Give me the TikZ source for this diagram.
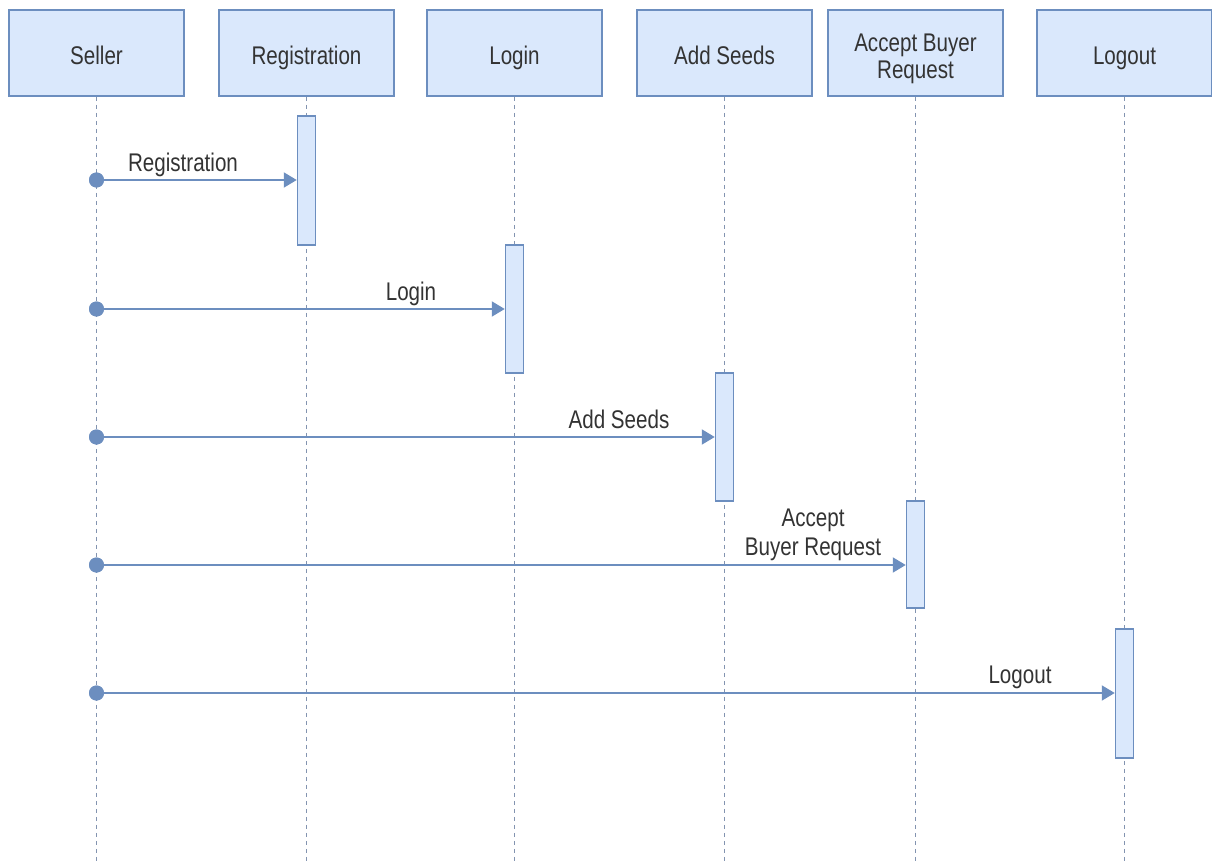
\documentclass[tikz,border=0pt]{standalone}
\usepackage{fontspec}
\setmainfont{Liberation Sans}
\usetikzlibrary{arrows.meta}
\definecolor{boxfill}{HTML}{DAE8FC}
\definecolor{boxline}{HTML}{6C8EBF}
\definecolor{lifec}{HTML}{8394B0}
\definecolor{txt}{HTML}{333333}
\newcommand{\sq}[1]{\scalebox{1}[1.24]{#1}}
\newcommand{\hd}[1]{\raisebox{0pt}[24pt][0pt]{\sq{#1}}}
\begin{document}
\begin{tikzpicture}[x=1pt,y=-1pt,
  every node/.style={font=\fontsize{20.6}{28}\selectfont, text=txt},
  head/.style={draw=boxline, fill=boxfill, line width=1.7pt, minimum width=175pt, minimum height=86pt, inner sep=0pt, align=center},
  actbox/.style={draw=boxline, fill=boxfill, line width=1.5pt, minimum width=18pt, inner sep=0pt},
  life/.style={draw=lifec, line width=1.6pt, dash pattern=on 4pt off 4pt},
  msg/.style={draw=boxline, line width=2pt, -{Triangle[length=13pt,width=15pt]}},
  dotst/.style={circle, fill=boxline, minimum size=15pt, inner sep=0pt},
  lbl/.style={inner sep=0pt, anchor=base}]
\useasboundingbox (0,0) rectangle (1212,861);
% header boxes
\node[head] (seller) at (96.5,53) {\hd{Seller}};
\node[head] (reg) at (306.5,53) {\hd{Registration}};
\node[head] (login) at (514.5,53) {\hd{Login}};
\node[head] (add) at (724.5,53) {\hd{Add Seeds}};
\node[head] (acc) at (915.5,53) {\raisebox{0pt}[0pt][2pt]{\sq{\fontsize{20.6}{21}\selectfont\begin{tabular}[t]{@{}c@{}}Accept Buyer\\Request\end{tabular}}}};
\node[head] (logout) at (1124.5,53) {\hd{Logout}};
% lifeline ends
\coordinate (e1) at (96.5,861);
\coordinate (e2) at (306.5,861);
\coordinate (e3) at (514.5,861);
\coordinate (e4) at (724.5,861);
\coordinate (e5) at (915.5,861);
\coordinate (e6) at (1124.5,861);
\draw[life] (seller.south) -- (e1);
\draw[life] (reg.south) -- (e2);
\draw[life] (login.south) -- (e3);
\draw[life] (add.south) -- (e4);
\draw[life] (acc.south) -- (e5);
\draw[life] (logout.south) -- (e6);
% activations
\node[actbox, minimum height=129pt] (a1) at (306.5,180.5) {};
\node[actbox, minimum height=128pt] (a2) at (514.5,309) {};
\node[actbox, minimum height=128pt] (a3) at (724.5,437) {};
\node[actbox, minimum height=107pt] (a4) at (915.5,554.5) {};
\node[actbox, minimum height=129pt] (a5) at (1124.5,693.5) {};
% start dots
\node[dotst] (d1) at (96.5,180) {};
\node[dotst] (d2) at (96.5,309) {};
\node[dotst] (d3) at (96.5,437) {};
\node[dotst] (d4) at (96.5,565) {};
\node[dotst] (d5) at (96.5,693) {};
% messages
\draw[msg] (d1.center) -- (a1.west |- d1);
\draw[msg] (d2.center) -- (a2.west |- d2);
\draw[msg] (d3.center) -- (a3.west |- d3);
\draw[msg] (d4.center) -- (a4.west |- d4);
\draw[msg] (d5.center) -- (a5.west |- d5);
\node[dotst] at (d1) {};
\node[dotst] at (d2) {};
\node[dotst] at (d3) {};
\node[dotst] at (d4) {};
\node[dotst] at (d5) {};
% labels
\node[lbl] (l1) at (183,172) {\sq{Registration}};
\node[lbl] (l2) at (411,300) {\sq{Login}};
\node[lbl] (l3) at (619,428) {\sq{Add Seeds}};
\node[lbl] (l4) at (813,555) {\sq{\fontsize{20.6}{22.6}\selectfont\begin{tabular}[b]{@{}c@{}}Accept\\Buyer Request\end{tabular}}};
\node[lbl] (l5) at (1020,683) {\sq{Logout}};
\end{tikzpicture}
\end{document}
